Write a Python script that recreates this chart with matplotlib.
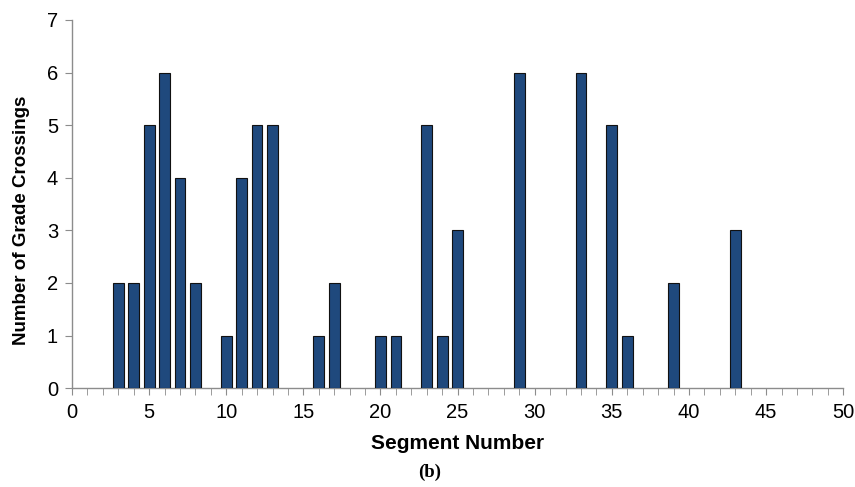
import matplotlib
matplotlib.use("Agg")
import matplotlib.pyplot as plt
import numpy as np

# segment numbers and crossings per segment
segments = [3, 4, 5, 6, 7, 8, 10, 11, 12, 13, 16, 17, 20, 21, 23, 24, 25, 29, 33, 35, 36, 39, 43]
crossings = [2, 2, 5, 6, 4, 2, 1, 4, 5, 5, 1, 2, 1, 1, 5, 1, 3, 6, 6, 5, 1, 2, 3]

plt.rcParams['font.family'] = ['Liberation Sans', 'DejaVu Sans']

fig = plt.figure(figsize=(8.55, 4.87), dpi=100)
ax = fig.add_axes([0.0842, 0.203, 0.902, 0.756])

ax.bar(segments, crossings, width=0.7, color='#1f497d', edgecolor='#111111', linewidth=0.8, zorder=3)

ax.set_xlim(0, 50)
ax.set_ylim(0, 7)
ax.set_xticks(np.arange(0, 51, 5))
ax.set_xticks(np.arange(0, 51, 1), minor=True)
ax.set_yticks(np.arange(0, 8, 1))

for s in ['top', 'right']:
    ax.spines[s].set_visible(False)
for s in ['left', 'bottom']:
    ax.spines[s].set_color('#8c8c8c')
    ax.spines[s].set_linewidth(1.0)

ax.tick_params(axis='x', which='both', direction='out', length=5, color='#8c8c8c', labelsize=14.5, pad=6)
ax.tick_params(axis='y', direction='out', length=5, color='#8c8c8c', labelsize=14.5, pad=5)

ax.set_xlabel('Segment Number', fontsize=15, fontweight='bold', labelpad=8)
ax.set_ylabel('Number of Grade Crossings', fontsize=13.5, fontweight='bold')
ax.yaxis.set_label_coords(-0.055, 0.455)

fig.text(0.503, 0.03, '(b)', ha='center', va='center', fontsize=13.5, fontweight='bold',
         family=['Liberation Serif', 'DejaVu Serif'])

fig.savefig('out.png', dpi=100)
